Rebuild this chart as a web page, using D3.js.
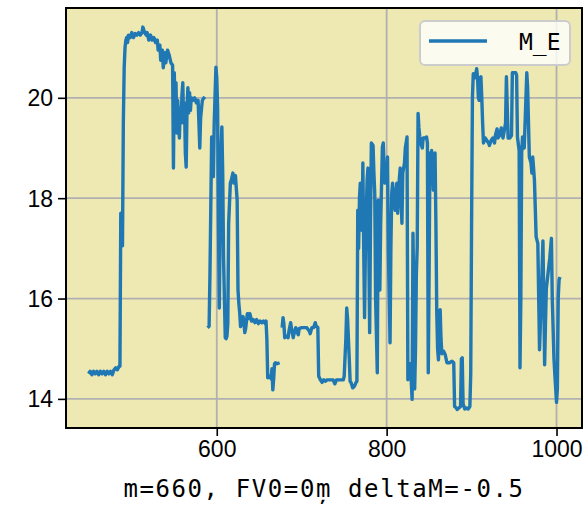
<!DOCTYPE html>
<html>
<head>
<meta charset="utf-8">
<script src="https://cdn.jsdelivr.net/npm/d3@7"></script>
<style>
  html, body { margin: 0; padding: 0; background: #ffffff; }
  svg { display: block; }
</style>
</head>
<body>
<svg id="chart" width="585" height="508"></svg>
<script>
// ---- data; null marks a break in the line ----
const seriesName = "M_E";
const xLabel = "m=660, FV0=0m\u0326 deltaM=-0.5";
const xTicks = [600, 800, 1000];
const yTicks = [14, 16, 18, 20];
const xDomain = [422.5, 1030];
const yDomain = [13.42, 21.79];

const xs = [
  449,451,453,455,457,459,461,463,465,467,469,471,473,475,477,479,481,483,485,486,
  487,488,489,490,491,492,493,494,495,496,498,500,502,504,506,508,510,512,513,515,
  517,518,520,522,524,526,528,530,531,533,534,536,537,539,540,542,544,546,548,549,
  550,551,552,553,554,556,557,558,559,560,561,562,563,564,565,566,567,568,569,570,
  572,574,576,578,579,580,581,583,585,586,587,
  589,591,592,594,595,596,597,599,600,601,602,603,604,605,606,607,608,610,611,612,
  613,614,616,617,619,620,622,623,624,625,626,627,628,629,631,632,633,634,636,638,
  639,641,643,645,647,649,651,653,655,657,658,659,660,662,664,665,666,667,668,669,
  671,674,675,
  677,678,679,680,682,684,685,687,688,690,691,693,694,696,697,700,703,706,709,710,
  712,714,716,717,719,720,722,724,726,728,730,732,735,737,739,741,744,747,749,750,
  752,753,754,756,757,758,760,762,764,765,766,767,768,769,770,771,772,773,774,775,
  777,778,779,780,781,782,784,785,786,787,789,790,791,792,793,795,796,797,798,800,
  801,802,804,805,806,807,809,810,812,813,815,816,817,818,819,821,822,824,825,826,
  827,828,830,831,832,833,834,835,836,837,838,839,840,842,843,845,847,848,849,850,
  851,852,853,854,855,856,857,858,859,860,861,862,863,864,865,867,869,871,874,877,
  879,880,882,883,885,887,888,889,890,892,894,896,898,899,900,901,902,904,906,907,
  908,909,910,911,912,913,914,916,918,920,921,923,925,927,928,930,931,933,935,936,
  937,938,940,941,942,943,945,947,948,950,952,953,954,956,957,958,959,960,962,965,
  966,968,970,971,972,973,974,976,978,980,982,984,985,986,987,988,990,992,994,995,
  997,998,1000,1001,1002,1003,1004
];
const ys = [
  14.50,14.55,14.48,14.55,14.50,14.55,14.48,14.55,14.50,14.55,14.48,14.55,14.50,14.55,14.48,14.58,14.62,14.58,14.65,14.65,
  17.70,17.40,17.05,19.50,20.60,21.00,21.15,21.20,21.10,21.25,21.20,21.30,21.20,21.28,21.25,21.30,21.25,21.30,21.41,21.30,
  21.25,21.30,21.15,21.25,21.15,21.20,21.10,21.15,20.95,21.05,20.75,20.95,20.60,20.90,20.70,20.95,20.85,20.70,20.65,18.60,
  20.50,19.60,20.30,19.30,19.95,19.20,19.80,19.50,20.05,20.30,19.50,19.90,18.90,18.62,19.80,20.20,19.70,20.10,19.75,20.00,
  19.95,20.00,19.90,19.95,19.50,19.00,19.60,19.95,20.00,20.02,null,
  15.42,15.45,16.50,19.22,18.80,18.43,19.50,20.61,20.40,19.80,17.50,15.81,17.50,18.90,19.42,18.50,16.80,15.22,15.20,15.25,
  15.50,17.50,18.30,18.35,18.50,18.30,18.45,18.20,17.96,16.17,15.90,15.72,15.44,15.50,15.64,15.50,15.32,15.40,15.70,15.60,
  15.70,15.55,15.58,15.52,15.58,15.50,15.55,15.52,15.55,15.50,15.55,15.18,14.42,14.45,14.40,14.60,14.18,14.40,14.70,14.72,
  14.70,14.72,null,
  15.42,15.62,15.50,15.22,15.25,15.22,15.35,15.52,15.40,15.22,15.30,15.42,15.35,15.28,15.40,15.42,15.42,15.42,15.35,15.30,
  15.42,15.42,15.52,15.45,15.42,14.45,14.38,14.33,14.38,14.35,14.38,14.38,14.38,14.38,14.30,14.38,14.38,14.38,14.38,14.45,
  15.20,15.81,15.60,14.80,14.35,14.33,14.22,14.25,14.33,14.35,17.76,17.00,18.00,18.30,17.50,17.36,18.70,17.00,15.62,17.00,
  18.36,18.60,17.00,15.32,17.50,19.10,19.05,18.50,18.10,16.00,14.52,17.96,17.50,16.17,17.50,19.02,19.10,18.60,18.30,18.36,
  18.82,17.00,15.12,17.00,18.10,18.30,17.90,17.76,18.30,17.70,18.40,18.60,18.00,17.50,18.50,18.70,19.00,19.22,14.38,14.50,
  14.58,14.70,13.99,17.30,16.00,14.20,15.00,16.50,17.03,19.69,19.40,19.22,19.10,19.00,19.20,19.20,19.22,19.10,14.52,16.50,
  18.90,18.70,18.95,18.60,18.16,18.70,18.90,17.50,15.72,15.00,14.78,15.30,15.78,15.20,14.90,14.95,14.88,14.72,14.72,14.75,
  14.72,13.85,13.82,13.79,13.82,13.85,14.80,14.82,13.90,13.80,13.82,13.80,13.85,14.50,17.50,20.00,20.48,20.40,20.58,20.40,
  20.00,19.95,20.40,20.42,20.00,19.50,19.10,19.20,19.15,19.10,19.05,19.15,19.20,19.10,19.25,19.38,19.20,19.25,19.40,19.30,
  19.20,19.30,19.50,20.42,19.80,19.20,19.20,19.25,20.50,20.50,20.50,20.45,19.22,18.95,14.62,16.00,18.90,19.22,19.00,20.50,
  20.20,18.82,18.70,18.50,18.82,18.60,18.36,17.23,17.10,14.98,16.00,17.15,16.00,14.68,15.50,16.20,16.50,16.80,17.20,16.00,
  14.80,14.50,13.93,14.20,16.00,16.37,16.43
];

// ---- layout ----
const svg = d3.select("#chart");
const plot = { left: 66, right: 582, top: 8, bottom: 428 };
const W = plot.right - plot.left, H = plot.bottom - plot.top;

const x = d3.scaleLinear().domain(xDomain).range([plot.left, plot.right]);
const y = d3.scaleLinear().domain(yDomain).range([plot.bottom, plot.top]);

const data = xs.map((d, i) => ({ x: d, y: ys[i] }));

// background
svg.append("rect")
  .attr("x", plot.left).attr("y", plot.top)
  .attr("width", W).attr("height", H)
  .attr("fill", "#eee9b2");

// grid
const grid = svg.append("g");
grid.selectAll("line.gx").data(xTicks).join("line")
  .attr("x1", d => x(d)).attr("x2", d => x(d))
  .attr("y1", plot.top).attr("y2", plot.bottom)
  .attr("stroke", "#b0b0b0").attr("stroke-width", 1.8);
grid.selectAll("line.gy").data(yTicks).join("line")
  .attr("y1", d => y(d)).attr("y2", d => y(d))
  .attr("x1", plot.left).attr("x2", plot.right)
  .attr("stroke", "#b0b0b0").attr("stroke-width", 1.8);

// clip
svg.append("clipPath").attr("id", "clip")
  .append("rect").attr("x", plot.left).attr("y", plot.top).attr("width", W).attr("height", H);

// line
const line = d3.line()
  .defined(d => d.y !== null)
  .x(d => x(d.x)).y(d => y(d.y));
svg.append("path")
  .datum(data)
  .attr("clip-path", "url(#clip)")
  .attr("fill", "none")
  .attr("stroke", "#1f77b4")
  .attr("stroke-width", 3.4)
  .attr("stroke-linejoin", "round")
  .attr("stroke-linecap", "butt")
  .attr("d", line);

// axes
const xAxis = d3.axisBottom(x).tickValues(xTicks).tickSize(8).tickPadding(4).tickFormat(d3.format("d"));
const yAxis = d3.axisLeft(y).tickValues(yTicks).tickSize(8).tickPadding(4).tickFormat(d3.format("d"));

const gx = svg.append("g").attr("transform", `translate(0,${plot.bottom})`).call(xAxis);
const gy = svg.append("g").attr("transform", `translate(${plot.left},0)`).call(yAxis);
[gx, gy].forEach(g => {
  g.select(".domain").remove();
  g.selectAll(".tick line").attr("stroke", "#000").attr("stroke-width", 1.6);
  g.selectAll(".tick text")
    .attr("fill", "#000")
    .style("font-family", "'Liberation Sans', Arial, sans-serif")
    .style("font-size", "23px");
});
gx.selectAll(".tick text").attr("dy", "0.75em").attr("y", 12);
gy.selectAll(".tick text").attr("x", -13).attr("dy", "0.35em");

// frame
svg.append("rect")
  .attr("x", plot.left).attr("y", plot.top)
  .attr("width", W).attr("height", H)
  .attr("fill", "none").attr("stroke", "#000").attr("stroke-width", 2);

// x label
svg.append("text")
  .attr("x", (plot.left + plot.right) / 2)
  .attr("y", 497)
  .attr("text-anchor", "middle")
  .style("font-family", "'DejaVu Sans Mono', monospace")
  .style("font-size", "24px")
  .style("letter-spacing", "1.6px")
  .attr("fill", "#000")
  .text(xLabel);

// legend
const lg = svg.append("g");
lg.append("rect")
  .attr("x", 420).attr("y", 21).attr("width", 150).attr("height", 44)
  .attr("rx", 5).attr("ry", 5)
  .attr("fill", "rgba(255,255,255,0.8)")
  .attr("stroke", "#cccccc").attr("stroke-width", 2);
lg.append("line")
  .attr("x1", 429).attr("x2", 487).attr("y1", 41).attr("y2", 41)
  .attr("stroke", "#1f77b4").attr("stroke-width", 3.4);
lg.append("text")
  .attr("x", 519).attr("y", 50)
  .style("font-family", "'DejaVu Sans Mono', monospace")
  .style("font-size", "23px")
  .attr("fill", "#000")
  .text(seriesName);
</script>
</body>
</html>
